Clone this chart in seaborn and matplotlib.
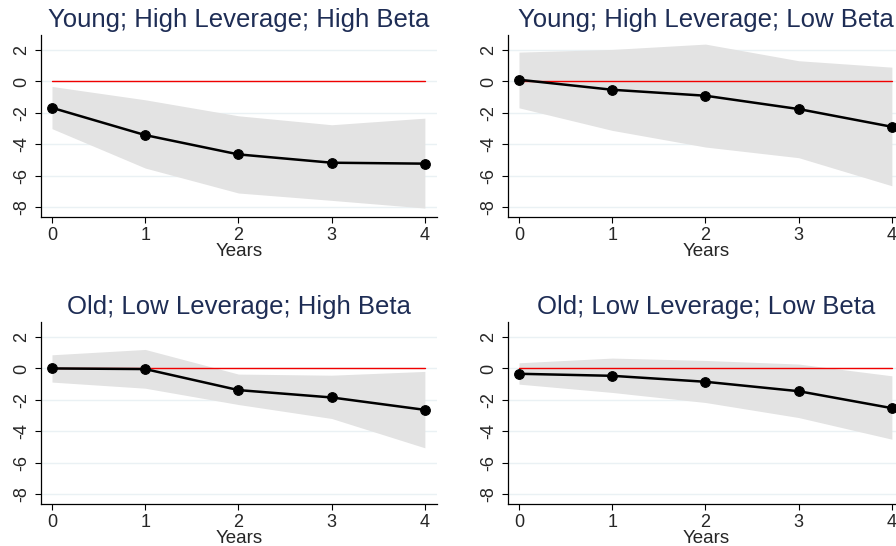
import numpy as np
import pandas as pd
import matplotlib
matplotlib.use("Agg")
import matplotlib.pyplot as plt
import seaborn as sns

years = [0, 1, 2, 3, 4]
titles = ["Young; High Leverage; High Beta", "Young; High Leverage; Low Beta",
          "Old; Low Leverage; High Beta", "Old; Low Leverage; Low Beta"]

est_yhh = [-1.68, -3.42, -4.65, -5.18, -5.24]
upp_yhh = [-0.32, -1.17, -2.19, -2.76, -2.34]
low_yhh = [-3.01, -5.52, -7.11, -7.58, -8.07]

est_yhl = [0.11, -0.53, -0.91, -1.76, -2.89]
upp_yhl = [1.87, 2.04, 2.38, 1.32, 0.91]
low_yhl = [-1.68, -3.12, -4.18, -4.86, -6.65]

est_olh = [0.0, -0.04, -1.38, -1.85, -2.64]
upp_olh = [0.87, 1.21, -0.36, -0.43, -0.19]
low_olh = [-0.87, -1.26, -2.30, -3.19, -5.06]

est_oll = [-0.34, -0.47, -0.85, -1.45, -2.53]
upp_oll = [0.36, 0.66, 0.51, 0.28, -0.47]
low_oll = [-1.00, -1.53, -2.17, -3.13, -4.51]

yticks = [2, 0, -2, -4, -6, -8]

sns.set_style("white")
plt.rcParams['font.family'] = ['Liberation Sans', 'DejaVu Sans']
plt.rcParams['axes.unicode_minus'] = False

W, H = 896, 546
fig = plt.figure(figsize=(W / 100, H / 100), dpi=100)

panels = [
    (titles[0], est_yhh, upp_yhh, low_yhh, (41, 35)),
    (titles[1], est_yhl, upp_yhl, low_yhl, (508, 35)),
    (titles[2], est_olh, upp_olh, low_olh, (41, 322)),
    (titles[3], est_oll, upp_oll, low_oll, (508, 322)),
]
aw, ah = 396, 182

for title, est, upp, low, (lx, ty) in panels:
    ax = fig.add_axes([lx / W, 1 - (ty + ah) / H, aw / W, ah / H])
    ax.set_facecolor('white')
    ax.fill_between(years, low, upp, color='#E3E3E3', linewidth=0, zorder=1)
    for t in yticks:
        ax.axhline(t, color='#EAF1F4', linewidth=1.0, zorder=0)
    df_zero = pd.DataFrame({'x': [years[0], years[-1]], 'y': [0, 0]})
    sns.lineplot(data=df_zero, x='x', y='y', ax=ax, color='#F00000', linewidth=1.0, zorder=2)
    df = pd.DataFrame({'x': years, 'y': est})
    sns.lineplot(data=df, x='x', y='y', ax=ax, color='black', linewidth=1.8,
                 marker='o', markersize=7, markeredgecolor='black', zorder=3)
    ax.set_xlim(-0.118, 4.13)
    ax.set_ylim(-8.64, 2.96)
    ax.set_xticks(years)
    ax.set_yticks(yticks)
    ax.set_yticklabels([str(t) for t in yticks], rotation=90, va='center')
    ax.tick_params(axis='both', labelsize=13, length=4.5, width=0.8, color='black',
                   direction='out', left=True, bottom=True, pad=3)
    ax.set_xlabel('Years', fontsize=13.5, labelpad=-1)
    ax.set_ylabel('')
    for s in ['top', 'right']:
        ax.spines[s].set_visible(False)
    for s in ['left', 'bottom']:
        ax.spines[s].set_color('black')
        ax.spines[s].set_linewidth(0.9)
    ax.set_title(title, fontsize=18.5, color='#1E2D55', pad=6)

fig.savefig('out.png', dpi=100)
